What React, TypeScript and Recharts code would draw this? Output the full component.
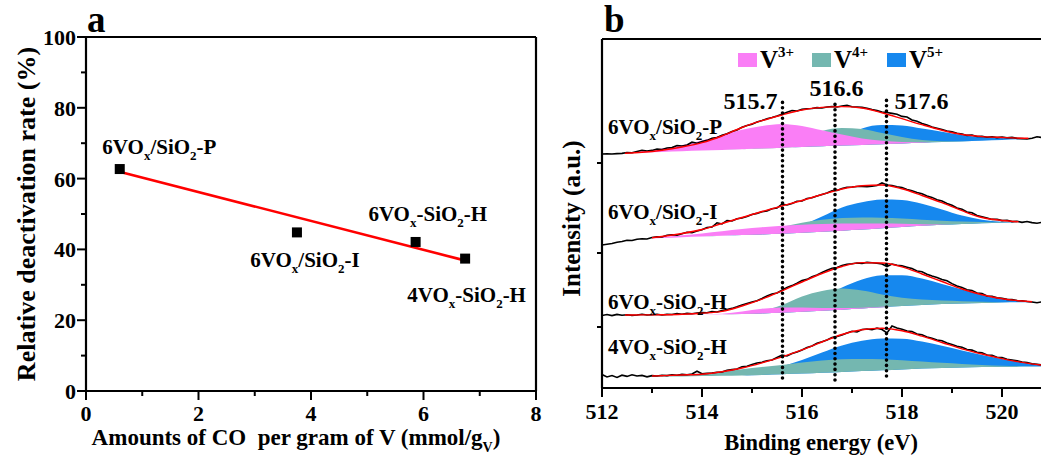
import React from 'react';
import {
  ComposedChart, XAxis, YAxis, Line, Area, Scatter, ReferenceLine, ReferenceDot, Legend,
} from 'recharts';

const FONT = "'Liberation Serif','Times New Roman',Times,serif";

// ---------------- Panel a data ----------------
const SAMPLES = ['6VO_{x}/SiO_{2}-P', '6VO_{x}/SiO_{2}-I', '6VO_{x}-SiO_{2}-H', '4VO_{x}-SiO_{2}-H'];
const CO_AMOUNT = [0.6, 3.75, 5.86, 6.74];
const DEACT_RATE = [62.7, 44.8, 42.1, 37.4];
const FIT_X = [0.63, 6.73];
const FIT_Y = [61.8, 36.9];
const A_X_TICKS = [0, 1, 2, 3, 4, 5, 6, 7, 8];
const A_Y_TICKS = [0, 10, 20, 30, 40, 50, 60, 70, 80, 90, 100];
const A_X_TITLE = 'Amounts of CO  per gram of V (mmol/g_{V})';
const A_Y_TITLE = 'Relative deactivation rate (%)';

// ---------------- Panel b data ----------------
const B_X_TICKS = [512, 513, 514, 515, 516, 517, 518, 519, 520];
const B_Y_TICKS = [61, 135, 225];
const B_X_TITLE = 'Binding energy (eV)';
const B_Y_TITLE = 'Intensity (a.u.)';
const STATES = ['V^{3+}', 'V^{4+}', 'V^{5+}'];
const STATE_COLORS = ['#FA7EF6', '#74B7B0', '#1688EE'];
const PEAK_POS = [515.61, 516.66, 517.69];
const PEAK_LABELS = ['515.7', '516.6', '517.6'];
const PEAK_TOP = [287, 288, 291];
const PEAK_BOTTOM = [10, 8, 12];

const P_X = [512.46, 512.8, 513.2, 513.6, 514.0, 514.4, 514.8, 515.2, 515.6, 516.0, 516.4, 516.8, 517.2, 517.6, 518.0, 518.4, 518.8, 519.2, 519.6, 520.0, 520.4, 520.53];
const P_BASE = [234.7, 235.3, 236.0, 236.7, 237.4, 238.1, 238.8, 239.5, 240.3, 241.0, 241.7, 242.4, 243.1, 243.8, 244.5, 245.2, 245.9, 246.6, 247.3, 248.0, 248.8, 249.0];
const P_FIT = [234.7, 235.7, 237.8, 241.0, 245.3, 252.0, 260.5, 267.3, 273.0, 278.0, 280.6, 281.4, 280.0, 275.2, 269.3, 263.3, 257.8, 253.5, 251.4, 250.5, 249.8, 249.7];
const P_V3 = [234.7, 236.8, 239.5, 242.7, 247.4, 253.1, 258.3, 262.0, 264.1, 262.0, 257.7, 253.4, 249.6, 247.3, 246.0, 245.8, 246.1, 246.6, 247.3, 248.0, 248.8, 249.0];
const P_V4 = [234.7, 235.3, 236.0, 236.7, 237.4, 238.1, 238.8, 241.0, 244.0, 250.0, 257.0, 260.0, 259.0, 255.0, 251.0, 248.0, 246.8, 246.8, 247.3, 248.0, 248.8, 249.0];
const P_V5 = [234.7, 235.3, 236.0, 236.7, 237.4, 238.1, 238.8, 239.5, 240.3, 241.5, 243.5, 248.0, 259.5, 263.0, 262.5, 259.5, 256.3, 253.0, 251.0, 250.2, 249.8, 249.7];

const I_X = [513.0, 513.2, 513.6, 514.0, 514.4, 514.8, 515.2, 515.6, 516.0, 516.4, 516.8, 517.2, 517.6, 518.0, 518.4, 518.8, 519.2, 519.6, 520.0, 520.33];
const I_BASE = [149.7, 150.0, 150.8, 151.5, 152.2, 152.9, 153.6, 154.3, 155.2, 156.2, 157.3, 158.5, 159.8, 161.0, 162.2, 163.2, 164.0, 164.8, 165.3, 165.7];
const I_FIT = [150.3, 151.5, 154.5, 158.5, 164.5, 170.5, 176.5, 182.0, 187.5, 193.5, 199.0, 202.2, 203.0, 199.2, 192.5, 185.3, 177.3, 170.5, 167.5, 166.2];
const I_V3 = [150.0, 151.0, 152.8, 154.6, 156.8, 159.0, 160.8, 162.2, 163.3, 164.0, 164.4, 164.6, 164.6, 164.3, 163.8, 163.4, 164.0, 164.8, 165.3, 165.7];
const I_V4 = [149.7, 150.0, 150.8, 151.5, 152.2, 153.5, 156.0, 161.0, 165.3, 168.3, 170.0, 170.6, 170.3, 169.5, 168.3, 167.2, 166.5, 166.0, 165.7, 165.7];
const I_V5 = [149.7, 150.0, 150.8, 151.5, 152.2, 152.9, 155.0, 158.0, 163.0, 171.5, 180.5, 185.7, 188.5, 188.0, 184.3, 178.6, 172.5, 168.3, 166.2, 165.7];

const H6_X = [512.46, 512.8, 513.2, 513.6, 514.0, 514.4, 514.8, 515.2, 515.6, 516.0, 516.4, 516.8, 517.2, 517.6, 518.0, 518.4, 518.8, 519.2, 519.6, 520.0, 520.4, 520.6];
const H6_BASE = [73.0, 73.0, 73.1, 73.2, 73.4, 73.7, 74.1, 74.6, 75.3, 76.2, 77.2, 78.3, 79.5, 80.7, 81.9, 83.0, 83.9, 84.6, 85.1, 85.5, 85.7, 85.8];
const H6_FIT = [73.0, 73.1, 73.3, 73.8, 74.8, 76.6, 82.0, 88.8, 97.2, 106.0, 114.5, 121.5, 125.4, 125.0, 121.2, 114.0, 106.5, 99.0, 93.2, 89.2, 87.0, 86.3];
const H6_V3 = [73.0, 73.0, 73.1, 73.2, 73.5, 74.3, 76.5, 79.3, 80.6, 80.5, 80.0, 80.0, 80.3, 81.2, 82.1, 83.0, 83.9, 84.6, 85.1, 85.5, 85.7, 85.8];
const H6_V4 = [73.0, 73.0, 73.1, 73.2, 73.4, 73.7, 75.5, 77.5, 83.0, 91.5, 97.0, 99.5, 97.5, 93.6, 90.3, 88.5, 87.5, 86.8, 86.2, 85.8, 85.7, 85.8];
const H6_V5 = [73.0, 73.0, 73.1, 73.2, 73.4, 73.7, 74.1, 75.5, 77.5, 82.0, 91.0, 100.5, 108.5, 112.8, 112.8, 109.5, 104.0, 98.5, 93.0, 89.0, 86.7, 86.3];

const H4_X = [513.0, 513.2, 513.6, 514.0, 514.4, 514.8, 515.2, 515.6, 516.0, 516.4, 516.8, 517.2, 517.6, 518.0, 518.4, 518.8, 519.2, 519.6, 520.0, 520.4, 520.8];
const H4_BASE = [11.3, 11.4, 11.6, 11.9, 12.2, 12.6, 13.1, 13.7, 14.4, 15.2, 16.0, 16.9, 17.8, 18.6, 19.4, 20.0, 20.5, 20.9, 21.2, 21.4, 21.5];
const H4_FIT = [12.0, 12.3, 13.0, 13.8, 16.2, 20.0, 25.2, 31.2, 38.2, 46.0, 53.5, 58.2, 59.7, 57.2, 51.8, 45.5, 39.2, 34.0, 29.4, 25.6, 22.8];
const H4_V3 = [11.3, 11.4, 11.6, 11.9, 12.2, 12.6, 13.1, 13.7, 14.4, 15.2, 16.0, 16.9, 17.8, 18.6, 19.4, 20.0, 20.5, 20.9, 21.2, 21.4, 21.5];
const H4_V4 = [11.8, 12.2, 13.2, 14.6, 16.5, 18.8, 21.0, 23.0, 25.5, 27.5, 28.7, 29.0, 28.7, 27.8, 26.5, 25.2, 24.0, 23.0, 22.3, 21.8, 21.6];
const H4_V5 = [11.3, 11.4, 11.6, 11.9, 12.2, 12.6, 15.0, 21.5, 28.0, 35.5, 42.5, 47.2, 49.6, 49.3, 46.5, 42.3, 37.6, 33.0, 29.0, 25.7, 23.0];

const RAW_X = [
  512.0, 512.1, 512.2, 512.3, 512.4, 512.5, 512.6, 512.7, 512.8, 512.9,
  513.0, 513.1, 513.2, 513.3, 513.4, 513.5, 513.6, 513.7, 513.8, 513.9,
  514.0, 514.1, 514.2, 514.3, 514.4, 514.5, 514.6, 514.7, 514.8, 514.9,
  515.0, 515.1, 515.2, 515.3, 515.4, 515.5, 515.6, 515.7, 515.8, 515.9,
  516.0, 516.1, 516.2, 516.3, 516.4, 516.5, 516.6, 516.7, 516.8, 516.9,
  517.0, 517.1, 517.2, 517.3, 517.4, 517.5, 517.6, 517.7, 517.8, 517.9,
  518.0, 518.1, 518.2, 518.3, 518.4, 518.5, 518.6, 518.7, 518.8, 518.9,
  519.0, 519.1, 519.2, 519.3, 519.4, 519.5, 519.6, 519.7, 519.8, 519.9,
  520.0, 520.1, 520.2, 520.3, 520.4, 520.5, 520.6, 520.7, 520.8,
];
const P_RAW = [
  234.0, 234.3, 234.0, 234.4, 234.6, 235.5, 235.2, 236.6, 237.8, 237.0,
  237.6, 238.9, 238.5, 240.0, 240.4, 242.5, 242.0, 243.0, 245.8, 244.8,
  246.5, 247.6, 249.8, 250.5, 252.8, 254.2, 256.5, 258.0, 260.8, 262.6,
  263.8, 266.0, 267.5, 269.2, 270.5, 272.0, 273.8, 275.8, 277.5, 277.0,
  278.6, 279.2, 279.5, 280.4, 280.0, 281.0, 281.5, 281.0, 282.0, 282.8,
  281.2, 281.0, 280.6, 279.8, 278.5, 277.4, 276.0, 275.5, 274.6, 273.8,
  271.6, 271.0, 268.0, 266.8, 264.5, 263.0, 261.0, 259.8, 258.5, 257.0,
  256.2, 254.8, 254.0, 252.6, 253.0, 251.5, 251.8, 250.8, 251.2, 250.4,
  251.0, 250.2, 250.6, 249.6, 249.4, 249.0, 249.8, 251.2, 250.5,
];
const I_RAW = [
  143.0, 143.8, 144.5, 145.8, 146.5, 147.8, 147.5, 148.8, 149.3, 149.0,
  150.5, 151.2, 151.0, 152.8, 153.2, 152.8, 154.2, 155.8, 155.4, 157.0,
  158.2, 160.5, 161.0, 165.2, 164.0, 167.5, 167.0, 169.2, 170.0, 171.4,
  173.5, 174.6, 176.2, 177.0, 179.2, 180.0, 184.0, 183.0, 184.5, 186.8,
  187.0, 189.5, 190.2, 192.0, 193.6, 195.0, 197.2, 197.6, 199.5, 200.8,
  201.0, 201.5, 201.6, 201.2, 201.8, 202.5, 205.0, 203.0, 202.5, 201.2,
  200.5, 198.6, 197.2, 195.4, 194.2, 192.0, 190.6, 188.2, 187.0, 184.5,
  182.8, 180.0, 178.8, 176.0, 175.2, 172.5, 171.2, 170.0, 168.6, 168.8,
  167.4, 167.8, 166.4, 166.8, 165.6, 166.5, 165.4, 164.8, 165.6,
];
const H6_RAW = [
  72.5, 73.5, 72.4, 73.6, 72.8, 73.2, 72.6, 73.0, 73.8, 73.0,
  73.2, 73.8, 73.0, 73.6, 73.5, 74.4, 73.8, 74.6, 74.2, 75.0,
  75.4, 75.2, 76.5, 76.0, 77.4, 78.5, 79.6, 81.2, 83.0, 84.5,
  86.0, 87.2, 89.5, 92.0, 94.0, 95.0, 97.8, 100.5, 102.4, 104.8,
  107.5, 108.6, 111.2, 113.0, 115.5, 117.8, 119.8, 120.5, 122.4, 123.8,
  124.2, 125.0, 124.6, 125.6, 125.2, 124.8, 124.0, 121.5, 124.0, 122.8,
  122.2, 120.8, 119.5, 117.0, 116.2, 113.8, 112.0, 110.6, 108.5, 107.2,
  104.4, 102.0, 100.5, 98.2, 97.5, 95.0, 94.5, 92.0, 91.8, 90.2,
  89.8, 88.6, 88.4, 87.5, 87.2, 86.5, 86.0, 85.2, 86.2,
];
const H4_RAW = [
  13.5, 11.0, 12.5, 10.5, 12.8, 11.6, 13.2, 12.0, 12.6, 11.2,
  12.4, 12.0, 12.8, 12.4, 13.2, 12.8, 13.6, 13.2, 14.0, 16.8,
  14.2, 14.6, 15.0, 15.8, 16.0, 17.8, 18.4, 19.0, 21.2, 21.8,
  23.5, 25.0, 25.8, 27.2, 28.0, 30.5, 32.8, 32.0, 34.5, 36.0,
  38.0, 40.5, 42.0, 44.8, 46.2, 48.0, 50.6, 51.5, 53.0, 55.0,
  56.8, 56.0, 58.5, 59.0, 58.2, 59.8, 58.5, 55.0, 62.0, 60.0,
  58.8, 57.0, 56.5, 54.0, 53.2, 51.0, 49.8, 48.0, 47.2, 45.0,
  43.6, 41.8, 40.8, 38.5, 37.9, 35.8, 35.2, 33.0, 32.6, 30.8,
  30.5, 28.8, 28.0, 27.2, 26.0, 25.5, 24.2, 23.8, 23.0,
];

// layout constants (text anchors, not data)
const A_LABEL_POS = [
  { x: 0.29, y: 67.0 }, { x: 2.92, y: 35.1 }, { x: 5.02, y: 48.1 }, { x: 5.71, y: 25.2 },
];
const B_LABEL_POS = [
  { x: 512.12, y: 254 }, { x: 512.12, y: 169 }, { x: 512.12, y: 79 }, { x: 512.12, y: 34 },
];
const PEAK_LABEL_OFF = [
  { dx: -5, dy: 8, anchor: 'end' }, { dx: 1.5, dy: -4, anchor: 'middle' }, { dx: 8, dy: 12, anchor: 'start' },
];
const LEG_X = [0, 74, 149];

// ---------------- helpers ----------------
type Part = { t: string; k: 'n' | 'sub' | 'sup' };
function parseRich(text: string): Part[] {
  const out: Part[] = [];
  let buf = '';
  let i = 0;
  while (i < text.length) {
    const c = text[i];
    if ((c === '_' || c === '^') && text[i + 1] === '{') {
      if (buf) out.push({ t: buf, k: 'n' });
      buf = '';
      const end = text.indexOf('}', i);
      out.push({ t: text.slice(i + 2, end), k: c === '_' ? 'sub' : 'sup' });
      i = end + 1;
    } else {
      buf += c;
      i += 1;
    }
  }
  if (buf) out.push({ t: buf, k: 'n' });
  return out;
}

function RichText({ x, y, text, size, anchor = 'start', rotate, subScale = 0.62 }: any) {
  const parts = parseRich(text);
  const small = Math.round(size * subScale);
  const subDy = size * 0.3;
  const supDy = -size * 0.45;
  let cur = 0;
  return (
    <text
      x={x}
      y={y}
      fontSize={size}
      fontFamily={FONT}
      fontWeight="bold"
      textAnchor={anchor}
      fill="#000"
      style={{ whiteSpace: 'pre' }}
      transform={rotate ? `rotate(${rotate} ${x} ${y})` : undefined}
    >
      {parts.map((p, i) => {
        const target = p.k === 'sub' ? subDy : p.k === 'sup' ? supDy : 0;
        const dy = target - cur;
        cur = target;
        return (
          <tspan key={i} dy={dy} fontSize={p.k === 'n' ? size : small}>
            {p.t}
          </tspan>
        );
      })}
    </text>
  );
}

const TICK_SIZE = 9;
function XTick(props: any) {
  const { x, y, payload, isMajor, fontSize, labelDy } = props;
  const axisY = y - TICK_SIZE;
  const major = isMajor(payload.value);
  return (
    <g>
      <line x1={x} x2={x} y1={axisY} y2={axisY + (major ? 9 : 5)} stroke="#000" strokeWidth={2} />
      {major && (
        <text x={x} y={axisY + labelDy} textAnchor="middle" fontSize={fontSize} fontFamily={FONT} fontWeight="bold" fill="#000">
          {payload.value}
        </text>
      )}
    </g>
  );
}
function YTick(props: any) {
  const { x, y, payload, isMajor, fontSize, showLabel } = props;
  const axisX = x + TICK_SIZE;
  const major = isMajor(payload.value);
  return (
    <g>
      <line x1={axisX} x2={axisX - (major ? 9 : 5)} y1={y} y2={y} stroke="#000" strokeWidth={2} />
      {major && showLabel && (
        <text x={axisX - 10} y={y + 8} textAnchor="end" fontSize={fontSize} fontFamily={FONT} fontWeight="bold" fill="#000">
          {payload.value}
        </text>
      )}
    </g>
  );
}

const AXIS_LINE = { stroke: '#000', strokeWidth: 2.2 };

const Square = (p: any) => <rect x={p.cx - 5} y={p.cy - 5} width={10} height={10} fill="#000" />;

// ---------------- Panel a ----------------
function PanelA() {
  const points = CO_AMOUNT.map((x, i) => ({ x, y: DEACT_RATE[i] }));
  const fit = FIT_X.map((x, i) => ({ x, y: FIT_Y[i] }));
  return (
    <ComposedChart width={560} height={458} margin={{ top: 37, right: 24, bottom: 37, left: 0 }}>
      <XAxis
        type="number"
        dataKey="x"
        domain={[0, 8]}
        ticks={A_X_TICKS}
        interval={0}
        allowDataOverflow
        height={30}
        tickSize={TICK_SIZE}
        tickMargin={0}
        tickLine={false}
        axisLine={AXIS_LINE}
        tick={(p: any) => <XTick {...p} isMajor={(v: number) => v % 2 === 0} fontSize={22} labelDy={30} />}
        label={(lp: any) => (
          <RichText x={lp.viewBox.x + 210} y={lp.viewBox.y + 54} text={A_X_TITLE} size={23} anchor="middle" />
        )}
      />
      <YAxis
        type="number"
        dataKey="y"
        domain={[0, 100]}
        ticks={A_Y_TICKS}
        interval={0}
        allowDataOverflow
        width={86}
        tickSize={TICK_SIZE}
        tickMargin={0}
        tickLine={false}
        axisLine={AXIS_LINE}
        tick={(p: any) => <YTick {...p} isMajor={(v: number) => v % 20 === 0} fontSize={22} showLabel />}
        label={(lp: any) => (
          <RichText x={lp.viewBox.x + 35} y={lp.viewBox.y + lp.viewBox.height / 2} text={A_Y_TITLE} size={26} anchor="middle" rotate={-90} />
        )}
      />
      <ReferenceLine y={100} stroke="#000" strokeWidth={2.2} />
      <ReferenceLine x={8} stroke="#000" strokeWidth={2.2} />
      <Line data={fit} dataKey="y" type="linear" stroke="#FF0000" strokeWidth={2.6} dot={false} isAnimationActive={false} />
      <Scatter data={points} dataKey="y" shape={Square} isAnimationActive={false} />
      {A_LABEL_POS.map((p, i) => (
        <ReferenceDot
          key={i}
          x={p.x}
          y={p.y}
          r={0}
          fill="none"
          stroke="none"
          label={(lp: any) => <RichText x={lp.viewBox.x} y={lp.viewBox.y} text={SAMPLES[i]} size={21} />}
        />
      ))}
      <ReferenceDot
        x={0}
        y={100}
        r={0}
        fill="none"
        stroke="none"
        label={(lp: any) => <RichText x={lp.viewBox.x + 1} y={lp.viewBox.y - 5} text="a" size={37} />}
      />
    </ComposedChart>
  );
}

// ---------------- Panel b ----------------
function buildSpectrum(xs: number[], base: number[], fit: number[], v3: number[], v4: number[], v5: number[]) {
  return xs.map((x, i) => ({
    x,
    fit: fit[i],
    v3: [base[i], v3[i]],
    v4: [base[i], v4[i]],
    v5: [base[i], v5[i]],
  }));
}
function buildRaw(vals: number[]) {
  return RAW_X.map((x, i) => ({ x, y: vals[i] })).filter((d) => d.y !== undefined);
}

const SPECTRA = [
  { fitted: buildSpectrum(P_X, P_BASE, P_FIT, P_V3, P_V4, P_V5), raw: buildRaw(P_RAW) },
  { fitted: buildSpectrum(I_X, I_BASE, I_FIT, I_V3, I_V4, I_V5), raw: buildRaw(I_RAW) },
  { fitted: buildSpectrum(H6_X, H6_BASE, H6_FIT, H6_V3, H6_V4, H6_V5), raw: buildRaw(H6_RAW) },
  { fitted: buildSpectrum(H4_X, H4_BASE, H4_FIT, H4_V3, H4_V4, H4_V5), raw: buildRaw(H4_RAW) },
];

const LegendBox = () => (
  <svg width={250} height={30} style={{ display: 'block', overflow: 'visible' }}>
    {STATES.map((s, i) => (
      <g key={s}>
        <rect x={LEG_X[i]} y={7} width={19} height={14} fill={STATE_COLORS[i]} />
        <RichText x={LEG_X[i] + 22} y={22} text={s} size={25} subScale={0.6} />
      </g>
    ))}
  </svg>
);

function PanelB() {
  const layers: React.ReactNode[] = [];
  SPECTRA.forEach((s, si) => {
    // draw order: V5+, V4+, V3+ (each from the background line)
    [2, 1, 0].forEach((ci) => {
      layers.push(
        <Area
          key={`a-${si}-${ci}`}
          data={s.fitted}
          dataKey={`v${ci + 3}`}
          type="monotone"
          stroke="none"
          fill={STATE_COLORS[ci]}
          fillOpacity={1}
          isAnimationActive={false}
          dot={false}
          activeDot={false}
        />,
      );
    });
    layers.push(
      <Line key={`raw-${si}`} data={s.raw} dataKey="y" type="linear" stroke="#000" strokeWidth={1.6} dot={false} isAnimationActive={false} />,
    );
    layers.push(
      <Line key={`fit-${si}`} data={s.fitted} dataKey="fit" type="monotone" stroke="#FF0000" strokeWidth={1.4} dot={false} isAnimationActive={false} />,
    );
  });
  return (
    <ComposedChart width={501} height={458} margin={{ top: 39, right: 0, bottom: 40, left: 0 }}>
      <XAxis
        type="number"
        dataKey="x"
        domain={[512, 520.78]}
        ticks={B_X_TICKS}
        interval={0}
        allowDataOverflow
        height={30}
        tickSize={TICK_SIZE}
        tickMargin={0}
        tickLine={false}
        axisLine={AXIS_LINE}
        tick={(p: any) => <XTick {...p} isMajor={(v: number) => v % 2 === 0} fontSize={22} labelDy={31} />}
        label={(lp: any) => (
          <RichText x={lp.viewBox.x + 219} y={lp.viewBox.y + 62} text={B_X_TITLE} size={22.5} anchor="middle" />
        )}
      />
      <YAxis
        type="number"
        domain={[0, 349]}
        ticks={B_Y_TICKS}
        interval={0}
        allowDataOverflow
        width={62}
        tickSize={TICK_SIZE}
        tickMargin={0}
        tickLine={false}
        axisLine={AXIS_LINE}
        tick={(p: any) => <YTick {...p} isMajor={() => false} fontSize={22} showLabel={false} />}
        label={(lp: any) => (
          <RichText x={lp.viewBox.x + 40} y={lp.viewBox.y + lp.viewBox.height / 2 + 5} text={B_Y_TITLE} size={25} anchor="middle" rotate={-90} />
        )}
      />
      <ReferenceLine y={349} stroke="#000" strokeWidth={2.2} />
      {layers}
      {PEAK_POS.map((x, i) => (
        <ReferenceLine
          key={`pk-${i}`}
          segment={[{ x, y: PEAK_BOTTOM[i] }, { x, y: PEAK_TOP[i] }]}
          stroke="#000"
          strokeWidth={3.6}
          strokeDasharray="0 5.3"
          strokeLinecap="round"
        />
      ))}
      {PEAK_POS.map((x, i) => (
        <ReferenceDot
          key={`pl-${i}`}
          x={x}
          y={PEAK_TOP[i]}
          r={0}
          fill="none"
          stroke="none"
          label={(lp: any) => (
            <RichText
              x={lp.viewBox.x + PEAK_LABEL_OFF[i].dx}
              y={lp.viewBox.y + PEAK_LABEL_OFF[i].dy}
              text={PEAK_LABELS[i]}
              size={24}
              anchor={PEAK_LABEL_OFF[i].anchor}
            />
          )}
        />
      ))}
      {B_LABEL_POS.map((p, i) => (
        <ReferenceDot
          key={`sl-${i}`}
          x={p.x}
          y={p.y}
          r={0}
          fill="none"
          stroke="none"
          label={(lp: any) => <RichText x={lp.viewBox.x} y={lp.viewBox.y} text={SAMPLES[i]} size={21} />}
        />
      ))}
      <ReferenceDot
        x={512}
        y={349}
        r={0}
        fill="none"
        stroke="none"
        label={(lp: any) => <RichText x={lp.viewBox.x + 2} y={lp.viewBox.y - 7} text="b" size={37} />}
      />
      <Legend
        layout="horizontal"
        verticalAlign="middle"
        align="center"
        content={() => <LegendBox />}
        wrapperStyle={{ left: 198, top: 46, width: 250, height: 30 }}
      />
    </ComposedChart>
  );
}

export default function App() {
  return (
    <div style={{ position: 'absolute', left: 0, top: 0, width: 1041, height: 458, background: '#fff', overflow: 'hidden' }}>
      <div style={{ position: 'absolute', left: 0, top: 0 }}>
        <PanelA />
      </div>
      <div style={{ position: 'absolute', left: 540, top: 0 }}>
        <PanelB />
      </div>
    </div>
  );
}
